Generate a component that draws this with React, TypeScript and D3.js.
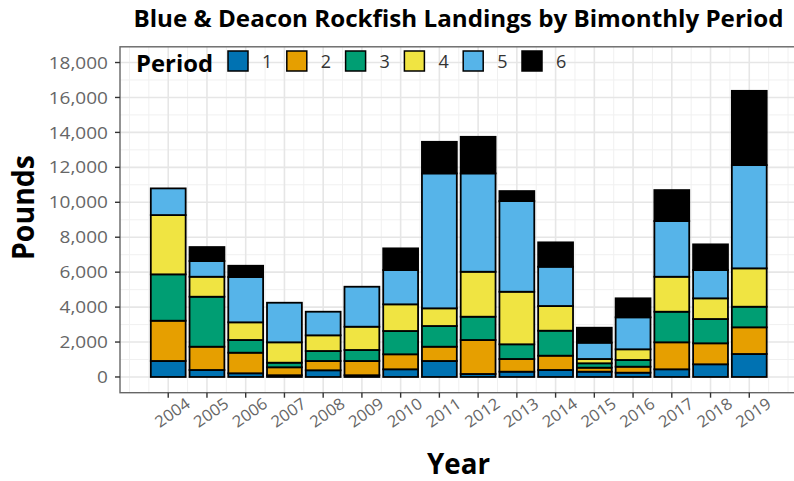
import React from "react";
import * as d3 from "d3";

const years = [2004, 2005, 2006, 2007, 2008, 2009, 2010, 2011, 2012, 2013, 2014, 2015, 2016, 2017, 2018, 2019];
const period1 = [915, 400, 212, 100, 383, 100, 440, 915, 172, 303, 400, 303, 246, 440, 727, 1316];
const period2 = [2306, 1333, 1178, 455, 532, 815, 859, 818, 1945, 727, 819, 229, 343, 1545, 1201, 1527];
const period3 = [2654, 2861, 727, 263, 572, 630, 1333, 1185, 1333, 841, 1430, 252, 384, 1751, 1390, 1179];
const period4 = [3393, 1144, 1012, 1167, 898, 1333, 1527, 1012, 2574, 3009, 1413, 246, 612, 2002, 1184, 2197];
const period5 = [1527, 898, 2592, 2265, 1351, 2288, 1962, 7723, 5629, 5189, 2248, 932, 1830, 3186, 1619, 5909];
const period6 = [0, 801, 646, 0, 0, 0, 1241, 1808, 2094, 572, 1396, 858, 1087, 1774, 1470, 4251];
const periods = ["1", "2", "3", "4", "5", "6"];
const colors = ["#0072B2", "#E69F00", "#009E73", "#F0E442", "#56B4E9", "#000000"];
const yTicks = [0, 2000, 4000, 6000, 8000, 10000, 12000, 14000, 16000, 18000];

const W = 794, H = 481;
const FONT = "'Open Sans', 'Noto Sans', sans-serif";

export default function App() {
  const series = [period1, period2, period3, period4, period5, period6];
  const table = years.map((y, i) => {
    const row: any = { year: y };
    periods.forEach((p, k) => (row[p] = series[k][i]));
    return row;
  });
  const stacked = d3.stack().keys(periods)(table);

  const x = d3.scaleLinear().domain([2002.755, 2020.245]).range([120, 797.5]);
  const y = d3.scaleLinear().domain([-900, 18900]).range([392.7, 46.8]);
  const halfW = 0.45;

  const vMinor = d3.range(2003, 2020.01, 0.5).filter((v) => !years.includes(v));
  const hMinor = d3.range(1000, 18000, 2000);
  const fmt = d3.format(",");

  const [pl, pr, pt, pb] = [120, 797.5, 46.8, 392.7];

  return (
    <svg width={W} height={H} style={{ position: "absolute", left: 0, top: 0, background: "#fff" }}>
      <rect x={0} y={0} width={W} height={H} fill="#fff" />
      {/* grid */}
      {hMinor.map((v) => (
        <line key={"hm" + v} x1={pl} x2={pr} y1={y(v)} y2={y(v)} stroke="#F0F0F0" strokeWidth={1} />
      ))}
      {vMinor.map((v) => (
        <line key={"vm" + v} x1={x(v)} x2={x(v)} y1={pt} y2={pb} stroke="#F0F0F0" strokeWidth={1} />
      ))}
      {yTicks.map((v) => (
        <line key={"hM" + v} x1={pl} x2={pr} y1={y(v)} y2={y(v)} stroke="#E6E6E6" strokeWidth={1.6} />
      ))}
      {years.map((v) => (
        <line key={"vM" + v} x1={x(v)} x2={x(v)} y1={pt} y2={pb} stroke="#E6E6E6" strokeWidth={1.6} />
      ))}
      {/* bars */}
      {stacked.map((layer, k) =>
        layer.map((d, i) =>
          d[1] - d[0] > 0 ? (
            <rect
              key={k + "-" + i}
              x={x(years[i] - halfW)}
              width={x(years[i] + halfW) - x(years[i] - halfW)}
              y={y(d[1])}
              height={y(d[0]) - y(d[1])}
              fill={colors[k]}
              stroke="#000"
              strokeWidth={1.8}
            />
          ) : null
        )
      )}
      {/* panel border */}
      <rect x={pl} y={pt} width={pr - pl} height={pb - pt} fill="none" stroke="#666" strokeWidth={1.4} />
      {/* y axis */}
      {yTicks.map((v) => (
        <g key={"yt" + v}>
          <line x1={pl - 5} x2={pl} y1={y(v)} y2={y(v)} stroke="#333" strokeWidth={1.4} />
          <text
            transform={`translate(${108},${y(v)}) scale(1.12,1)`}
            dy="0.36em"
            textAnchor="end"
            fontFamily={FONT}
            fontSize={17}
            fill="#666"
          >
            {fmt(v)}
          </text>
        </g>
      ))}
      {/* x axis */}
      {years.map((v) => (
        <g key={"xt" + v}>
          <line x1={x(v)} x2={x(v)} y1={pb} y2={pb + 5} stroke="#333" strokeWidth={1.4} />
          <text
            transform={`translate(${x(v) + 4},${412.5}) rotate(-35) scale(1.05,1)`}
            textAnchor="middle"
            dy="0.36em"
            fontFamily={FONT}
            fontSize={16}
            fill="#666"
          >
            {v}
          </text>
        </g>
      ))}
      {/* titles */}
      <text
        x={458.5}
        y={26.5}
        textAnchor="middle"
        fontFamily={FONT}
        fontWeight="bold"
        fontSize={22.5}
        textLength={650}
        lengthAdjust="spacingAndGlyphs"
        fill="#000"
      >
        Blue &amp; Deacon Rockfish Landings by Bimonthly Period
      </text>
      <text
        x={458.5}
        y={473.5}
        textAnchor="middle"
        fontFamily={FONT}
        fontWeight="bold"
        fontSize={29}
        textLength={63}
        lengthAdjust="spacingAndGlyphs"
        fill="#000"
      >
        Year
      </text>
      <text
        transform={`translate(${33.5},${207.5}) rotate(-90)`}
        textAnchor="middle"
        fontFamily={FONT}
        fontWeight="bold"
        fontSize={30}
        textLength={105}
        lengthAdjust="spacingAndGlyphs"
        fill="#000"
      >
        Pounds
      </text>
      {/* legend */}
      <text
        x={136}
        y={71.5}
        fontFamily={FONT}
        fontWeight="bold"
        fontSize={23}
        textLength={77}
        lengthAdjust="spacingAndGlyphs"
        fill="#000"
      >
        Period
      </text>
      {periods.map((p, k) => {
        const kx = 228 + k * 58.8;
        return (
          <g key={"lg" + p}>
            <rect x={kx} y={51} width={20} height={20} fill={colors[k]} stroke="#000" strokeWidth={1.5} />
            <text x={kx + 34} y={67.5} fontFamily={FONT} fontSize={18} fill="#333">
              {p}
            </text>
          </g>
        );
      })}
    </svg>
  );
}
